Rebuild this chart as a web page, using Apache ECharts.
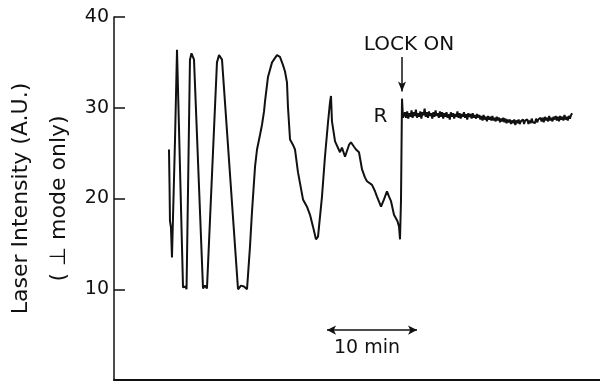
<!DOCTYPE html>
<html>
<head>
<meta charset="utf-8">
<script src="https://cdn.jsdelivr.net/npm/echarts@6/dist/echarts.min.js"></script>
<style>
  html, body { margin: 0; padding: 0; background: #fff; }
  #main { width: 600px; height: 382px; }
</style>
</head>
<body>
<div id="main"></div>
<script>
// time in minutes from the y axis, intensity in A.U.
var traceMinutes = [6.11, 6.17, 6.22, 6.33, 6.44, 6.56, 6.78, 7.00, 7.67, 7.83, 7.94, 8.06,
	8.44, 8.61, 8.78, 8.89, 9.89, 10.11, 10.33, 11.44, 11.67, 11.89, 12.00,
	13.78, 14.11, 14.44, 14.78, 15.11, 15.33, 15.67, 15.89, 16.22, 16.44, 16.67, 16.78,
	17.00, 17.11, 17.56, 18.11, 18.44, 18.78, 19.00, 19.22, 19.33, 19.56, 19.89, 20.11,
	20.44, 21.00, 21.44, 21.78, 22.11, 22.44, 22.67, 23.11, 23.44, 23.78, 24.00, 24.11,
	24.22, 24.56, 24.78, 25.11, 25.33, 25.67, 25.89, 26.11, 26.33, 26.67, 26.89, 27.22,
	27.56, 27.89, 28.11, 28.67, 29.00, 29.22, 29.67, 30.00, 30.33, 30.56, 30.78, 31.11,
	31.33, 31.50, 31.67, 31.78, 31.89, 32.00, 32.11];
var traceIntensity = [25.4, 21.5, 17.5, 16.8, 13.5, 13.3, 26.5, 36.4, 10.2, 10.0, 10.3, 10.0,
	35.3, 36.0, 35.9, 35.3, 10.1, 10.4, 10.1, 35.0, 35.8, 35.8, 35.3,
	10.0, 10.4, 10.3, 10.0, 14.7, 18.5, 23.5, 25.4, 27.0, 28.1, 29.6, 30.7,
	30.9, 33.4, 35.0, 35.8, 35.6, 34.7, 34.0, 32.8, 30.1, 26.5, 25.9, 25.4,
	22.9, 19.9, 19.1, 18.2, 16.9, 15.5, 15.8, 20.2, 24.6, 28.4, 30.6, 31.3,
	28.5, 26.3, 26.5, 25.1, 25.6, 24.6, 24.8, 25.9, 26.2, 25.7, 25.4, 25.1,
	23.2, 22.3, 21.9, 21.5, 20.8, 20.2, 19.1, 19.9, 20.8, 20.2, 19.7, 18.2,
	18.0, 17.5, 16.9, 15.5, 19.9, 31.0, 28.9];

// after lock-on: evenly spaced readings off the chart paper
var lockStart = 32.33;
var lockStep = 0.1214;
var lockedIntensity = [
	29.5, 28.9, 29.6, 28.8, 29.4, 29.0, 29.7, 28.9, 29.5, 29.1, 29.8, 28.9, 29.4, 29.0, 29.6, 28.8, 29.5, 29.2,
	29.9, 29.0, 29.5, 28.9, 29.6, 29.1, 29.4, 28.8, 29.5, 29.0, 29.7, 29.1, 29.4, 28.9, 29.6, 29.0, 29.5,
	28.8, 29.4, 29.0, 29.5, 28.9, 29.3, 28.7, 29.5, 29.0, 29.4, 28.8, 29.3, 29.0, 29.6, 28.9, 29.4, 28.8,
	29.3, 29.0, 29.5, 28.9, 29.3, 28.7, 29.4, 29.0, 29.3, 28.8, 29.4, 28.9, 29.2, 28.8, 29.3, 28.9, 29.2, 28.7,
	29.1, 28.6, 29.2, 28.7, 29.0, 28.5, 29.1, 28.7, 29.0, 28.6, 29.1, 28.6, 28.9, 28.5, 29.0, 28.6, 28.9,
	28.4, 28.8, 28.5, 28.9, 28.4, 28.8, 28.3, 28.7,
	28.4, 28.7, 28.2, 28.6, 28.3, 28.7, 28.1, 28.6, 28.3, 28.7, 28.2, 28.5, 28.3, 28.7, 28.2, 28.6, 28.4,
	28.7, 28.2, 28.6, 28.3, 28.8, 28.4, 28.6, 28.3, 28.8, 28.4, 28.7, 28.5, 28.9,
	28.5, 28.9, 28.4, 29.0, 28.6, 28.9, 28.5, 29.1, 28.6, 28.9, 28.5, 29.0, 28.7, 29.1, 28.6, 29.0, 28.5,
	29.1, 28.7, 29.0, 28.6, 29.2, 28.7, 29.0, 28.6, 29.1, 28.8, 29.2, 29.4];

var yTicks = [10, 20, 30, 40];
var scaleBar = [23.67, 33.67, 5.5]; // from, to, height
var lockOnTime = 32.0;

var ink = '#111';
var data = [];
for (var i = 0; i < traceMinutes.length; i++) {
	data.push([traceMinutes[i], traceIntensity[i]]);
}
for (var j = 0; j < lockedIntensity.length; j++) {
	data.push([lockStart + j * lockStep, lockedIntensity[j]]);
}

var myChart = echarts.init(document.getElementById('main'));
var option = {
	animation: false,
	grid: { left: 114, right: 0, top: 17, bottom: 2, outerBoundsMode: 'none', containLabel: false },
	xAxis: {
		type: 'value',
		min: 0,
		max: 54,
		axisLine: { lineStyle: { color: ink, width: 2 } },
		axisTick: { show: false },
		axisLabel: { show: false },
		splitLine: { show: false }
	},
	yAxis: {
		type: 'value',
		min: 0,
		max: 40,
		interval: 10,
		name: 'Laser Intensity (A.U.)\n( \u22a5 mode only)',
		nameLocation: 'middle',
		nameRotate: 90,
		nameGap: 36,
		nameMoveOverlap: false,
		nameTextStyle: { fontFamily: 'DejaVu Sans', fontSize: 22, color: ink, lineHeight: 38 },
		axisLine: { show: true, lineStyle: { color: ink, width: 1.5 } },
		axisTick: { show: true, inside: true, length: 11, lineStyle: { color: ink, width: 1.5 } },
		axisLabel: {
			margin: 5,
			fontFamily: 'DejaVu Sans',
			fontSize: 19,
			color: ink,
			formatter: function (v) { return yTicks.indexOf(v) >= 0 ? v : ''; }
		},
		splitLine: { show: false }
	},
	series: [{
		type: 'line',
		data: data,
		showSymbol: false,
		symbol: 'none',
		lineStyle: { color: ink, width: 2 },
		markLine: {
			silent: true,
			symbolSize: [7, 9],
			lineStyle: { color: ink, width: 1.5, type: 'solid' },
			data: [
				[{ coord: [scaleBar[0], scaleBar[2]], symbol: 'arrow',
					label: { show: true, formatter: '10 min', position: 'insideMiddleBottom', distance: 8,
						padding: [0, 10, 0, 0],
						fontFamily: 'DejaVu Sans', fontSize: 19, color: ink } },
				 { coord: [scaleBar[1], scaleBar[2]], symbol: 'arrow' }],
				[{ coord: [lockOnTime, 35.6], symbol: 'none',
					label: { show: true, formatter: 'LOCK ON', position: 'start', distance: 2,
						padding: [0, 0, 0, 14],
						fontFamily: 'DejaVu Sans', fontSize: 20, color: ink } },
				 { coord: [lockOnTime, 31.8], symbol: 'arrow', symbolSize: [6, 10] }]
			]
		},
		markPoint: {
			silent: true,
			symbol: 'circle',
			symbolSize: 0,
			data: [{ coord: [29.6, 29.0],
				label: { show: true, formatter: 'R', position: 'inside', fontFamily: 'DejaVu Sans', fontSize: 20, color: ink } }]
		}
	}]
};
myChart.setOption(option);
</script>
</body>
</html>
